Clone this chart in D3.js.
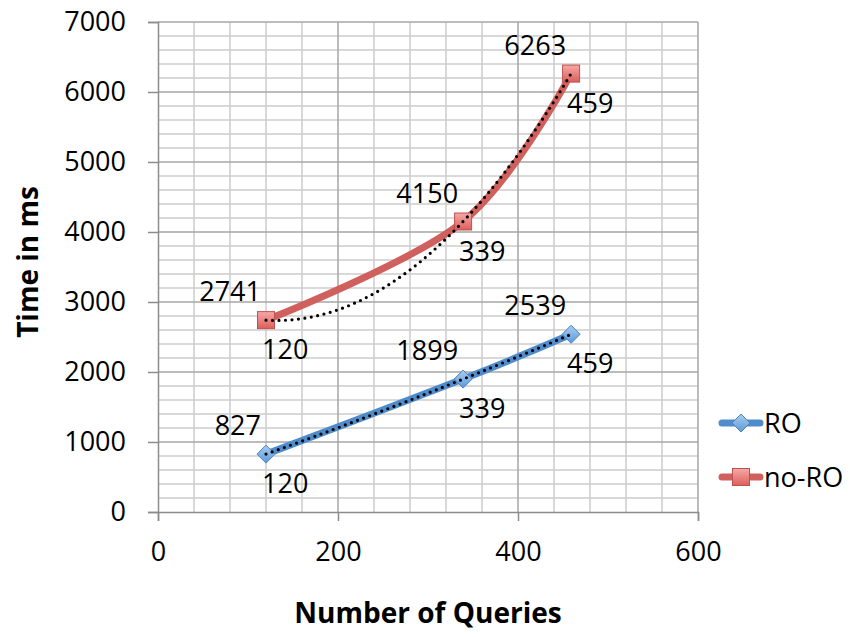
<!DOCTYPE html>
<html>
<head>
<meta charset="utf-8">
<script src="https://cdn.jsdelivr.net/npm/d3@7"></script>
<style>
  html,body{margin:0;padding:0;background:#fff;}
  svg{display:block;}
  text{font-family:"Open Sans",Lato,sans-serif;fill:#000;}
</style>
</head>
<body>
<svg id="chart" width="850" height="637"></svg>
<script>
// ---- data ----
const queries = [120, 339, 459];
const roTimes = [827, 1899, 2539];
const noRoTimes = [2741, 4150, 6263];
const seriesNames = ["RO", "no-RO"];
const xTicks = [0, 200, 400, 600];
const yTicks = [0, 1000, 2000, 3000, 4000, 5000, 6000, 7000];
const xTitle = "Number of Queries";
const yTitle = "Time in ms";

(function () {
const svg = d3.select("#chart");
const pL = 158, pR = 698, pT = 22, pB = 512;
const FONT = "'Open Sans', Lato, sans-serif";
const FS = "27px";

const x = d3.scaleLinear().domain([0, 600]).range([pL, pR]);
const y = d3.scaleLinear().domain([0, 7000]).range([pB, pT]);

const defs = svg.append("defs");
const gB = defs.append("linearGradient").attr("id","gBlue").attr("x1",0).attr("y1",0).attr("x2",0).attr("y2",1);
gB.append("stop").attr("offset","0%").attr("stop-color","#a9cdf0");
gB.append("stop").attr("offset","100%").attr("stop-color","#5b9bd9");
const gR = defs.append("linearGradient").attr("id","gRed").attr("x1",0).attr("y1",0).attr("x2",0).attr("y2",1);
gR.append("stop").attr("offset","0%").attr("stop-color","#f6a9a7");
gR.append("stop").attr("offset","100%").attr("stop-color","#dc5f5b");

// minor grid
const g = svg.append("g");
const minorX = d3.range(0, 601, 40).filter(v => v % 200 !== 0);
const minorY = d3.range(0, 7001, 200).filter(v => v % 1000 !== 0);
g.selectAll(".mx").data(minorX).join("line")
  .attr("x1", d => x(d)).attr("x2", d => x(d)).attr("y1", pT).attr("y2", pB)
  .attr("stroke", "#cdcdcd").attr("stroke-width", 1.5);
g.selectAll(".my").data(minorY).join("line")
  .attr("x1", pL).attr("x2", pR).attr("y1", d => y(d)).attr("y2", d => y(d))
  .attr("stroke", "#cdcdcd").attr("stroke-width", 1.5);
// major grid
g.selectAll(".Mx").data(xTicks.filter(v => v > 0)).join("line")
  .attr("x1", d => x(d)).attr("x2", d => x(d)).attr("y1", pT).attr("y2", pB)
  .attr("stroke", "#a6a6a6").attr("stroke-width", 1.5);
g.selectAll(".My").data(yTicks.filter(v => v > 0)).join("line")
  .attr("x1", pL).attr("x2", pR).attr("y1", d => y(d)).attr("y2", d => y(d))
  .attr("stroke", "#a6a6a6").attr("stroke-width", 1.5);

// axes
const xAxis = svg.append("g").attr("transform", `translate(0,${pB})`)
  .call(d3.axisBottom(x).tickValues(xTicks).tickFormat(d3.format("d")).tickSize(9).tickPadding(21));
const yAxis = svg.append("g").attr("transform", `translate(${pL},0)`)
  .call(d3.axisLeft(y).tickValues(yTicks).tickFormat(d3.format("d")).tickSize(10).tickPadding(22));
[xAxis, yAxis].forEach(a => {
  a.select(".domain").attr("stroke", "#8c8c8c").attr("stroke-width", 1.5);
  a.selectAll(".tick line").attr("stroke", "#8c8c8c").attr("stroke-width", 1.5);
  a.selectAll(".tick text").style("font-family", FONT).style("font-size", FS).attr("fill", "#000");
});
xAxis.selectAll(".tick text").attr("dy", "0.71em");

// titles
svg.append("text").attr("x", (pL + pR) / 2).attr("y", 623)
  .attr("text-anchor", "middle").style("font-size", "28px").style("font-weight", "bold").text(xTitle);
svg.append("text").attr("transform", `translate(38,${(pT + pB) / 2 - 5}) rotate(-90)`)
  .attr("text-anchor", "middle").style("font-size", "28px").style("font-weight", "bold").text(yTitle);

// series
const series = [
  { name: seriesNames[0], values: roTimes, color: "#4f8ccc", fill: "url(#gBlue)", stroke: "#4f81bd", shape: "diamond" },
  { name: seriesNames[1], values: noRoTimes, color: "#d0605d", fill: "url(#gRed)", stroke: "#c0504d", shape: "square" }
];

const line = d3.line().x(d => x(d[0])).y(d => y(d[1])).curve(d3.curveCardinal.tension(0));

// polynomial (order 2) trendline through the points
function quadFit(xs, ys) {
  const [x0, x1, x2] = xs, [y0, y1, y2] = ys;
  return t => y0 * ((t - x1) * (t - x2)) / ((x0 - x1) * (x0 - x2))
            + y1 * ((t - x0) * (t - x2)) / ((x1 - x0) * (x1 - x2))
            + y2 * ((t - x0) * (t - x1)) / ((x2 - x0) * (x2 - x1));
}

function marker(sel, s, cx, cy) {
  if (s.shape === "diamond") {
    const r = 9;
    sel.append("path").attr("d", `M${cx},${cy - r}L${cx + r},${cy}L${cx},${cy + r}L${cx - r},${cy}Z`)
      .attr("fill", s.fill).attr("stroke", s.stroke).attr("stroke-width", 1);
  } else {
    const r = 8.5;
    sel.append("rect").attr("x", cx - r).attr("y", cy - r).attr("width", 2 * r).attr("height", 2 * r)
      .attr("fill", s.fill).attr("stroke", s.stroke).attr("stroke-width", 1);
  }
}

series.forEach(s => {
  const pts = queries.map((q, i) => [q, s.values[i]]);
  const sg = svg.append("g");
  sg.append("path").attr("d", line(pts)).attr("fill", "none")
    .attr("stroke", s.color).attr("stroke-width", 7).attr("stroke-linecap", "round");
  pts.forEach(p => marker(sg, s, x(p[0]), y(p[1])));
  const f = quadFit(queries, s.values);
  const tpts = d3.range(queries[0], queries[2] + 0.001, (queries[2] - queries[0]) / 80).map(t => [t, f(t)]);
  sg.append("path").attr("d", d3.line().x(d => x(d[0])).y(d => y(d[1]))(tpts))
    .attr("fill", "none").attr("stroke", "#000").attr("stroke-width", 3.2)
    .attr("stroke-dasharray", "0 6.5").attr("stroke-linecap", "round");
  pts.forEach(p => {
    sg.append("text").attr("x", x(p[0]) - 5).attr("y", y(p[1]) - 19)
      .attr("text-anchor", "end").style("font-size", FS).text(p[1]);
    sg.append("text").attr("x", x(p[0]) - 4).attr("y", y(p[1]) + 39)
      .attr("text-anchor", "start").style("font-size", FS).text(p[0]);
  });
});

// legend
const leg = svg.append("g");
series.forEach((s, i) => {
  const ly = 423 + i * 54;
  leg.append("line").attr("x1", 722).attr("x2", 760).attr("y1", ly).attr("y2", ly)
    .attr("stroke", s.color).attr("stroke-width", 7).attr("stroke-linecap", "round");
  marker(leg, s, 741, ly);
  leg.append("text").attr("x", 764).attr("y", ly + 10).style("font-size", FS).text(s.name);
});
})();
</script>
</body>
</html>
